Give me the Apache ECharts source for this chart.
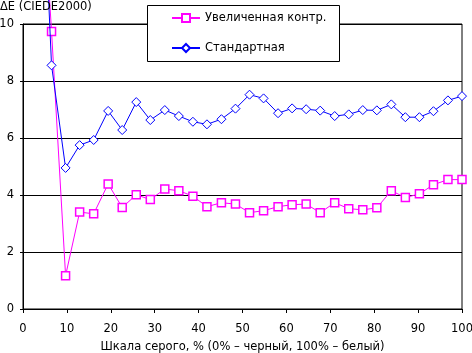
<!DOCTYPE html>
<html>
<head>
<meta charset="utf-8">
<script src="https://cdn.jsdelivr.net/npm/echarts@6/dist/echarts.min.js"></script>
<style>
  html, body { margin: 0; padding: 0; background: #fff; }
  #main { width: 472px; height: 353px; }
</style>
</head>
<body>
<div id="main"></div>
<script>
// grey level positions, % (first point lies above the chart)
var greyLevels = [3.2, 6.5, 9.7, 12.9, 16.1, 19.4, 22.6, 25.8, 29.0, 32.3, 35.5, 38.7, 41.9, 45.2, 48.4,
  51.6, 54.8, 58.1, 61.3, 64.5, 67.7, 71.0, 74.2, 77.4, 80.6, 83.9, 87.1, 90.3, 93.5, 96.8, 100]
var contrastVals = [18, 9.74, 1.17, 3.40, 3.34, 4.39, 3.56, 4.01, 3.84, 4.21, 4.15, 3.96, 3.59, 3.73, 3.68,
  3.38, 3.45, 3.59, 3.66, 3.68, 3.38, 3.73, 3.52, 3.48, 3.55, 4.15, 3.91, 4.04, 4.36, 4.54, 4.54]
var standardVals = [20, 8.55, 4.95, 5.75, 5.93, 6.95, 6.28, 7.26, 6.63, 6.98, 6.77, 6.57, 6.48, 6.66, 7.03,
  7.52, 7.39, 6.87, 7.04, 7.01, 6.96, 6.77, 6.83, 6.98, 6.97, 7.18, 6.73, 6.73, 6.94, 7.32, 7.47]
var seriesNames = ['Увеличенная контр.', 'Стандартная']

var font = '"DejaVu Sans", Arial, sans-serif'
var fs = 11.5

function toPoints(vals) {
  return vals.map(function (v, i) {
    var p = { value: [greyLevels[i], v] }
    if (v > 10) p.symbol = 'none'
    return p
  })
}

var chart = echarts.init(document.getElementById('main'))
var option = {
  animation: false,
  backgroundColor: '#fff',
  textStyle: { fontFamily: font, color: '#000' },
  title: {
    text: 'ΔE (CIEDE2000)',
    left: -5,
    top: -4,
    textStyle: { fontSize: fs, fontWeight: 'normal', color: '#000', fontFamily: font },
  },
  // legend frame
  graphic: [
    {
      type: 'rect',
      left: 147,
      top: 5,
      z: 10,
      shape: { width: 192, height: 56 },
      style: { fill: '#fff', stroke: '#000', lineWidth: 1 },
    },
  ],
  legend: {
    orient: 'vertical',
    left: 147,
    top: 5,
    z: 20,
    padding: [7, 20, 0, 24],
    itemWidth: 28,
    itemHeight: 10,
    itemGap: 18,
    data: seriesNames,
    textStyle: { fontSize: fs, color: '#000', fontFamily: font },
  },
  grid: {
    left: 23,
    right: 10,
    top: 24,
    bottom: 44,
    outerBoundsMode: 'none',
    show: true,
    borderColor: '#000',
    borderWidth: 1,
  },
  xAxis: {
    type: 'value',
    min: 0,
    max: 100,
    interval: 10,
    name: 'Шкала серого, % (0% – черный, 100% – белый)',
    nameLocation: 'middle',
    nameGap: 32,
    nameTextStyle: { fontSize: fs, color: '#000', fontFamily: font },
    axisLine: { lineStyle: { color: '#000', width: 1 } },
    axisTick: { length: 4, lineStyle: { color: '#000' } },
    axisLabel: { fontSize: fs, color: '#000', margin: 14, fontFamily: font },
    splitLine: { show: false },
  },
  yAxis: {
    type: 'value',
    min: 0,
    max: 10,
    interval: 2,
    axisLine: { show: true, lineStyle: { color: '#000', width: 1 } },
    axisTick: { show: true, length: 3, lineStyle: { color: '#000' } },
    axisLabel: { fontSize: fs, color: '#000', margin: 9, fontFamily: font },
    splitLine: { lineStyle: { color: '#000', width: 1 } },
  },
  series: [
    {
      name: seriesNames[0],
      type: 'line',
      clip: false,
      data: toPoints(contrastVals),
      symbol: 'rect',
      symbolSize: 8,
      showAllSymbol: true,
      lineStyle: { color: '#ff00ff', width: 1 },
      itemStyle: { color: '#fff', borderColor: '#ff00ff', borderWidth: 1.5 },
      z: 3,
    },
    {
      name: seriesNames[1],
      type: 'line',
      clip: false,
      data: toPoints(standardVals),
      symbol: 'diamond',
      symbolSize: 9,
      showAllSymbol: true,
      lineStyle: { color: '#0000ff', width: 1 },
      itemStyle: { color: '#fff', borderColor: '#0000ff', borderWidth: 1 },
      z: 4,
    },
  ],
}
chart.setOption(option)
</script>
</body>
</html>
